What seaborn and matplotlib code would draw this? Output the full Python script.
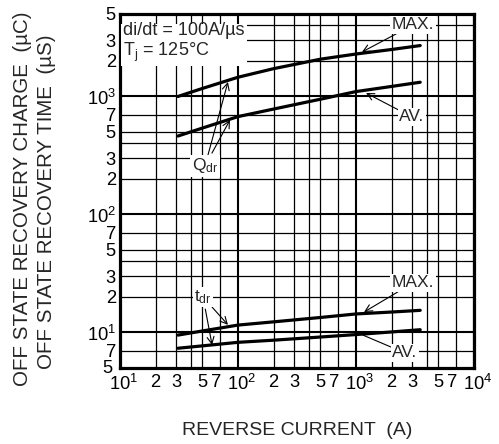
import numpy as np
import pandas as pd
import matplotlib
matplotlib.use("Agg")
import matplotlib.pyplot as plt
import matplotlib.ticker as mticker
import matplotlib.transforms as mtrans
import seaborn as sns

# ---------------- data ----------------
current = [31, 50, 100, 200, 500, 1000, 2000, 3500]          # reverse current (A)
qdr_max = [1000, 1170, 1455, 1720, 2070, 2290, 2500, 2700]    # µC
qdr_av = [462, 540, 675, 782, 948, 1100, 1216, 1320]          # µC
tdr_max = [9.5, 10.3, 11.55, 12.3, 13.4, 14.35, 14.9, 15.4]   # µs
tdr_av = [7.35, 7.7, 8.25, 8.6, 9.15, 9.6, 10.1, 10.55]       # µs
series_names = ["Qdr MAX", "Qdr AV", "tdr MAX", "tdr AV"]

x_major = [10, 100, 1000, 10000]
x_minor_subs = [2, 3, 4, 5, 7]
x_minor_labelled = [2, 3, 5, 7]
y_major = [10, 100, 1000]
y_limits = (5, 5000)
x_limits = (10, 10000)

# ---------------- style ----------------
sns.set_style("white")
plt.rcParams["font.family"] = ["Liberation Sans", "DejaVu Sans"]
plt.rcParams["mathtext.fontset"] = "custom"
plt.rcParams["mathtext.rm"] = "Liberation Sans"
plt.rcParams["mathtext.it"] = "Liberation Sans:italic"
plt.rcParams["mathtext.default"] = "regular"

df = pd.DataFrame({
    "current": current * 4,
    "value": qdr_max + qdr_av + tdr_max + tdr_av,
    "series": sum([[n] * len(current) for n in series_names], []),
})

fig = plt.figure(figsize=(4.99, 4.44), dpi=100)
ax = fig.add_axes([0.2405, 0.1712, 0.7094, 0.7973])

sns.lineplot(data=df, x="current", y="value", hue="series", units="series",
             estimator=None, palette=["black"] * 4, linewidth=2.3,
             legend=False, ax=ax, zorder=4)

ax.set_xscale("log")
ax.set_yscale("log")
ax.set_xlim(*x_limits)
ax.set_ylim(*y_limits)

# grid
ax.xaxis.set_major_locator(mticker.FixedLocator(x_major))
ax.yaxis.set_major_locator(mticker.FixedLocator(y_major))
xmin_ticks = [s * d for d in [10, 100, 1000] for s in x_minor_subs]
ymin_ticks = [s * d for d in [1, 10, 100, 1000] for s in x_minor_subs if y_limits[0] <= s * d <= y_limits[1]]
ax.xaxis.set_minor_locator(mticker.FixedLocator(xmin_ticks))
ax.yaxis.set_minor_locator(mticker.FixedLocator(ymin_ticks))
ax.grid(True, which="major", color="black", linewidth=1.5, zorder=1)
ax.grid(True, which="minor", color="black", linewidth=0.9, zorder=1)
ax.set_axisbelow(True)


def major_fmt(v, pos):
    e = int(round(np.log10(v)))
    return r"10$^{%d}$" % e


def minor_fmt(v, pos):
    m = v / 10 ** np.floor(np.log10(v) + 1e-9)
    m = int(round(m))
    return str(m) if m in x_minor_labelled else ""


ax.xaxis.set_major_formatter(mticker.FuncFormatter(major_fmt))
ax.yaxis.set_major_formatter(mticker.FuncFormatter(major_fmt))
ax.xaxis.set_minor_formatter(mticker.FuncFormatter(minor_fmt))
ax.yaxis.set_minor_formatter(mticker.FuncFormatter(minor_fmt))
ax.tick_params(which="both", length=0, labelsize=13.2, colors="black")
ax.tick_params(axis="x", which="both", pad=4.5)
ax.tick_params(axis="y", which="both", pad=3)

for sp in ax.spines.values():
    sp.set_linewidth(2.3)
    sp.set_color("black")
    sp.set_zorder(5)

ax.set_xlabel("")
ax.set_ylabel("")

# axis titles
fig.text(0.596, 0.030, "REVERSE CURRENT  (A)", ha="center", va="center", fontsize=14)
fig.text(0.046, 0.553, "OFF STATE RECOVERY CHARGE  (µC)", rotation=90,
         ha="center", va="center", fontsize=14.8)
fig.text(0.094, 0.545, "OFF STATE RECOVERY TIME  (µS)", rotation=90,
         ha="center", va="center", fontsize=14.8)

# condition box
ax.text(0.008, 0.978, "di/dt = 100A/µs\nT$_{j}$ = 125°C", transform=ax.transAxes,
        ha="left", va="top", fontsize=13, linespacing=1.12, zorder=6,
        bbox=dict(facecolor="white", edgecolor="none", pad=1.5))

box = dict(facecolor="white", edgecolor="none", pad=1)
arr = dict(arrowstyle="->", color="black", lw=0.8, shrinkA=0, shrinkB=0)
line = dict(arrowstyle="-", color="black", lw=0.8, shrinkA=0, shrinkB=0)

# MAX / AV labels (upper pair)
ax.annotate("MAX.", xy=(1125, 2383), xytext=(3040, 4035), ha="center", va="center",
            fontsize=12.5, bbox=box, arrowprops=arr, zorder=6)
ax.annotate("AV.", xy=(1216, 1070), xytext=(2985, 670), ha="center", va="center",
            fontsize=12.5, bbox=box, arrowprops=arr, zorder=6)
# lower pair
ax.annotate("MAX.", xy=(1170, 14.9), xytext=(3040, 26.3), ha="center", va="center",
            fontsize=12.5, bbox=box, arrowprops=arr, zorder=6)
ax.annotate("AV.", xy=(1145, 9.5), xytext=(2600, 6.7), ha="center", va="center",
            fontsize=12.5, bbox=box, arrowprops=line, zorder=6)

# Qdr label with two arrows
ax.annotate("Q$_{dr}$", xy=(82.2, 1327), xytext=(52.5, 258), ha="center", va="center",
            fontsize=12.5, bbox=box, arrowprops=arr, zorder=6)
ax.annotate("Q$_{dr}$", xy=(85.5, 632), xytext=(52.5, 258), ha="center", va="center",
            fontsize=12.5, color="none", arrowprops=arr, zorder=6)
# tdr label with two arrows
ax.annotate("t$_{dr}$", xy=(82.2, 11.6), xytext=(50.5, 20), ha="center", va="center",
            fontsize=12.5, bbox=box, arrowprops=arr, zorder=6)
ax.annotate("t$_{dr}$", xy=(60.3, 7.83), xytext=(50.5, 20), ha="center", va="center",
            fontsize=12.5, color="none", arrowprops=arr, zorder=6)

# nudge tick labels: decade labels right (centre the "10"), "7" labels left,
# bottom "5" on the y axis a little up-left so it clears the "10^1" below it
fig.canvas.draw()
right = mtrans.ScaledTranslation(3.5 / 100, 0, fig.dpi_scale_trans)
left = mtrans.ScaledTranslation(-3.5 / 100, 0, fig.dpi_scale_trans)
upleft = mtrans.ScaledTranslation(-3.0 / 100, 1.5 / 100, fig.dpi_scale_trans)
for t in ax.xaxis.get_major_ticks():
    t.label1.set_transform(t.label1.get_transform() + right)
for t in ax.xaxis.get_minor_ticks():
    if t.label1.get_text() == "7":
        t.label1.set_transform(t.label1.get_transform() + left)
for t in ax.yaxis.get_minor_ticks():
    if abs(t.get_loc() - y_limits[0]) < 1e-9:
        t.label1.set_transform(t.label1.get_transform() + upleft)

fig.savefig("out.png", dpi=100)
